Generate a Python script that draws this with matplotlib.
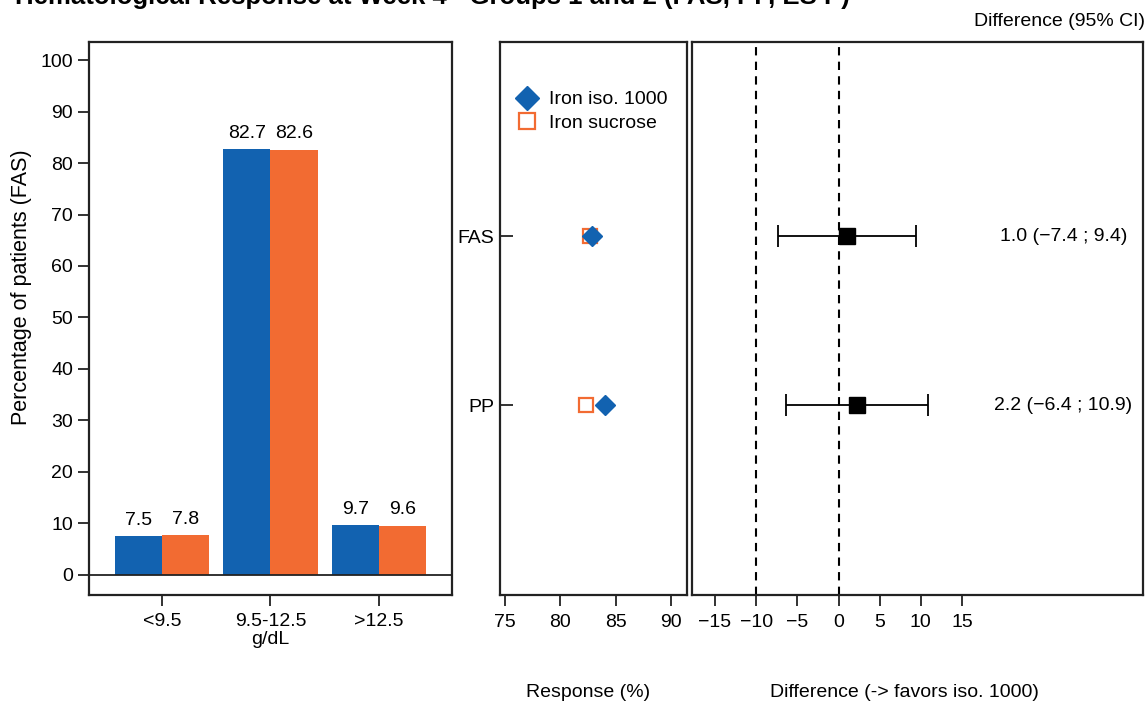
import matplotlib.pyplot as plt
from matplotlib.lines import Line2D

plt.rcParams['font.family'] = ['Liberation Sans', 'DejaVu Sans']

# bar panel data
hb_groups = ['<9.5', '9.5-12.5', '>12.5']
pct_iso = [7.5, 82.7, 9.7]
pct_sucrose = [7.8, 82.6, 9.6]

# response panel data
populations = ['FAS', 'PP']
resp_iso = [82.9, 84.0]
resp_sucrose = [82.7, 82.3]

# difference panel data
diff = [1.0, 2.2]
ci_low = [-7.4, -6.4]
ci_high = [9.4, 10.9]
diff_labels = ['1.0 (\u22127.4 ; 9.4)', '2.2 (\u22126.4 ; 10.9)']

blue = '#1262b0'
orange = '#f26b32'
edge = '#222222'
fs = 14

fig = plt.figure(figsize=(11.48, 7.05), dpi=100)
ax1 = fig.add_axes([0.0775, 0.156, 0.3162, 0.7844])
ax2 = fig.add_axes([0.4355, 0.156, 0.1629, 0.7844])
ax3 = fig.add_axes([0.6028, 0.156, 0.3929, 0.7844])

for ax in (ax1, ax2, ax3):
    for s in ax.spines.values():
        s.set_linewidth(1.6)
        s.set_color(edge)
    ax.tick_params(width=1.3, length=8, labelsize=fs, color=edge)

# bars
w = 0.433
x = list(range(len(hb_groups)))
ax1.bar([i - w / 2 for i in x], pct_iso, width=w, color=blue)
ax1.bar([i + w / 2 for i in x], pct_sucrose, width=w, color=orange)
for i in x:
    ax1.text(i - w / 2, pct_iso[i] + 1.4, '%.1f' % pct_iso[i], ha='center', va='bottom', fontsize=fs)
    ax1.text(i + w / 2, pct_sucrose[i] + 1.4, '%.1f' % pct_sucrose[i], ha='center', va='bottom', fontsize=fs)
ax1.axhline(0, color=edge, linewidth=1.3)
ax1.set_xlim(-0.67, 2.67)
ax1.set_ylim(-3.9, 103.5)
ax1.set_yticks(range(0, 101, 10))
ax1.set_xticks(x)
ax1.set_xticklabels(hb_groups)
ax1.tick_params(axis='x', pad=5)
ax1.set_xlabel('g/dL', fontsize=fs, labelpad=1)
ax1.set_ylabel('Percentage of patients (FAS)', fontsize=15.5, labelpad=8)
ax1.yaxis.set_label_coords(-0.157, 0.557)

# response panel
ypos = [2, 1]
ax2.plot(resp_sucrose, ypos, linestyle='none', marker='s', markersize=10, markerfacecolor='white',
         markeredgecolor=orange, markeredgewidth=1.6)
ax2.plot(resp_iso, ypos, linestyle='none', marker='D', markersize=10, color=blue)
ax2.set_xlim(74.55, 91.45)
ax2.set_ylim(-0.124, 3.148)
ax2.set_xticks([75, 80, 85, 90])
ax2.set_yticks(ypos)
ax2.set_yticklabels(populations)
ax2.tick_params(axis='y', direction='in', length=9, pad=4)
ax2.tick_params(axis='x', pad=6)
ax2.set_xlabel('Response (%)', fontsize=fs)
handles = [Line2D([], [], linestyle='none', marker='D', markersize=12, color=blue),
           Line2D([], [], linestyle='none', marker='s', markersize=11, markerfacecolor='white',
                  markeredgecolor=orange, markeredgewidth=1.6)]
ax2.legend(handles, ['Iron iso. 1000', 'Iron sucrose'], loc='upper left', bbox_to_anchor=(-0.045, 0.94),
           frameon=False, fontsize=fs, handletextpad=0.15, labelspacing=0.3, borderpad=0.3)

# difference panel
for xv in (-10, 0):
    ax3.axvline(xv, color='black', linestyle=(0, (4, 3)), linewidth=1.5)
ax3.errorbar(diff, ypos, xerr=[[d - l for d, l in zip(diff, ci_low)], [h - d for d, h in zip(diff, ci_high)]],
             fmt='s', color='black', markersize=11, capsize=8, elinewidth=1.3, capthick=1.3)
for yv, lab in zip(ypos, diff_labels):
    ax3.text(27.3, yv, lab, ha='center', va='center', fontsize=fs)
ax3.set_xlim(-17.79, 36.98)
ax3.set_ylim(-0.124, 3.148)
ax3.set_xticks(range(-15, 16, 5))
ax3.set_xticklabels(['\u2212%d' % -v if v < 0 else str(v) for v in range(-15, 16, 5)])
ax3.set_yticks([])
ax3.tick_params(axis='x', pad=6)
ax3.set_xlabel('Difference (-> favors iso. 1000)', fontsize=fs)
ax3.xaxis.set_label_coords(0.47, -0.161)
ax2.xaxis.set_label_coords(0.47, -0.161)

fig.text(0.997, 0.97, 'Difference (95% CI)', ha='right', va='center', fontsize=fs)
fig.text(0.013, 1 - 4 / 705, 'Hematological Response at Week 4 - Groups 1 and 2 (FAS, PP, ES P)',
         ha='left', va='baseline', fontsize=18.5, fontweight='bold')

fig.savefig('out.png', dpi=100)
